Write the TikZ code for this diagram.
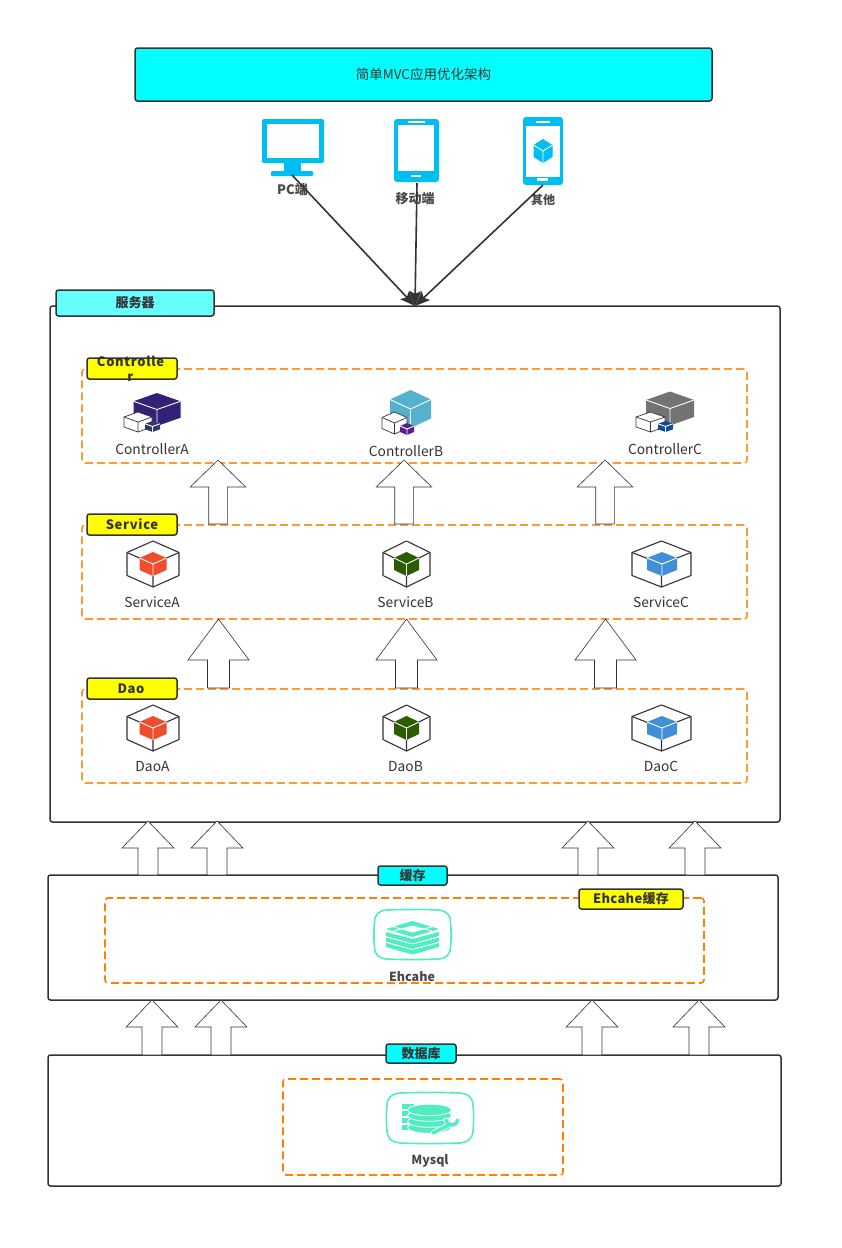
\documentclass[tikz,border=0pt]{standalone}
\usepackage{fontspec}
\setmainfont{Noto Sans CJK SC}
\usetikzlibrary{arrows.meta}
\definecolor{ink}{HTML}{333333}
\definecolor{aqua}{RGB}{0,255,255}
\definecolor{paleaqua}{RGB}{102,255,255}
\definecolor{sun}{RGB}{255,255,0}
\definecolor{devblue}{HTML}{00BEF2}
\definecolor{mint}{HTML}{50EDC2}
\definecolor{softorange}{HTML}{FF9933}
\definecolor{deeporange}{HTML}{FF8000}
\definecolor{navy}{HTML}{342076}
\definecolor{slate}{HTML}{2E3A6E}
\definecolor{teal}{HTML}{54B2CE}
\definecolor{plum}{HTML}{5C1F8F}
\definecolor{midgrey}{HTML}{737373}
\definecolor{royal}{HTML}{0F4C96}
\definecolor{tomato}{HTML}{EF4D2D}
\definecolor{forest}{HTML}{2A5C00}
\definecolor{sky}{HTML}{428FD8}
\tikzset{
  panel/.style={draw=ink, line width=1.5pt, rounded corners=2.5pt, fill=white, outer sep=0pt, inner sep=0pt},
  group/.style={draw=softorange, dashed, dash pattern=on 8pt off 4pt, line width=1.6pt, rounded corners=3pt, outer sep=0pt, inner sep=0pt},
  tag/.style={draw=ink, line width=1.5pt, rounded corners=2.5pt, fill=sun, outer sep=0pt, inner sep=0pt},
  tagtext/.style={text=ink, font=\bfseries\fontsize{13}{15}\selectfont, align=center, inner sep=0pt},
  caption/.style={text=ink, font=\fontsize{13.8}{15}\selectfont, inner sep=0pt},
  boldcaption/.style={text=ink!90, font=\bfseries\fontsize{12.5}{15}\selectfont, inner sep=0pt},
  blockarrow/.style={draw=ink, line width=.6pt, fill=white},
  pics/solidcube/.style={code={
    \fill[#1] (0,-1) -- (1,-.5) -- (1,.5) -- (0,1) -- (-1,.5) -- (-1,-.5) -- cycle;
    \draw[white, line width=.9pt] (-1,-.5) -- (0,0) -- (1,-.5) (0,0) -- (0,1);
  }},
  pics/wirecube/.style={code={
    \draw[ink, line width=#1, fill=white, line join=round] (0,-1) -- (1,-.5) -- (1,.5) -- (0,1) -- (-1,.5) -- (-1,-.5) -- cycle;
    \draw[ink, line width=#1] (-1,-.5) -- (0,0) -- (1,-.5) (0,0) -- (0,1);
  }},
  pics/squircle/.style={code={
    \draw[mint, line width=1.6pt, fill=white] (-.68,-1) .. controls (-.3,-1.03) and (.3,-1.03) .. (.68,-1)
      .. controls (.9,-.97) and (1,-.8) .. (1,-.5) .. controls (1.02,-.2) and (1.02,.2) .. (1,.5)
      .. controls (1,.8) and (.9,.97) .. (.68,1) .. controls (.3,1.03) and (-.3,1.03) .. (-.68,1)
      .. controls (-.9,.97) and (-1,.8) .. (-1,.5) .. controls (-1.02,.2) and (-1.02,-.2) .. (-1,-.5)
      .. controls (-1,-.8) and (-.9,-.97) .. (-.68,-1) -- cycle;
  }},
}
\newcommand{\tagspaced}{\addfontfeature{LetterSpace=5}}
\begin{document}
\begin{tikzpicture}[x=1pt, y=-1pt, >={Stealth[length=15pt,width=12pt,inset=3pt]}]
    \useasboundingbox[fill=white] (0,0) rectangle (842,1248);

    \node[panel, fill=aqua, minimum width=577pt, minimum height=53pt] (title) at (423.5,74.5)
        {\fontsize{13.5}{15}\selectfont\color{ink}简单MVC应用优化架构};

    % devices
    \fill[devblue, rounded corners=2pt] (262,119) rectangle (324,163);
    \fill[white] (267,124) rectangle (319,158);
    \fill[devblue] (284,163) rectangle (301,172);
    \fill[devblue, rounded corners=1pt] (271,171) rectangle (313,176);
    \fill[devblue, rounded corners=3pt] (394,119) rectangle (439,182);
    \fill[white] (398,125) rectangle (434,171);
    \fill[white] (408,121) rectangle (425,123);
    \fill[white] (411,175) rectangle (421,177);
    \fill[devblue, rounded corners=3pt] (523,117) rectangle (563,185);
    \fill[white] (526,126) rectangle (560,177);
    \fill[white] (536,121) rectangle (550,123);
    \fill[white] (537,178) rectangle (548,181);
    \pic[xscale=9.5, yscale=12] at (543,151) {solidcube=devblue};
    \coordinate (pcFoot) at (292,175);
    \coordinate (padFoot) at (417,183);
    \coordinate (otherFoot) at (543,185);
    \node[boldcaption, font=\bfseries\fontsize{13}{15}\selectfont] (pcText) at (292.5,190) {PC端};
    \node[boldcaption, font=\bfseries\fontsize{13}{15}\selectfont] (padText) at (415,198.5) {移动端};
    \node[boldcaption, font=\bfseries\fontsize{12}{15}\selectfont] (otherText) at (543,199.5) {其他};

    % server
    \node[panel, minimum width=730pt, minimum height=516pt] (server) at (415,564) {};
    \node[tag, fill=paleaqua, minimum width=158pt, minimum height=26pt] (serverTag) at (135,303) {};
    \node[tagtext] (serverText) at (serverTag) {服务器};
    \draw[->, ink, line width=1.6pt] (pcFoot) -- (server.north);
    \draw[->, ink, line width=1.6pt] (padFoot) -- (server.north);
    \draw[->, ink, line width=1.6pt] (otherFoot) -- (server.north);

    \node[group, minimum width=665pt, minimum height=94pt] (ctrlGroup) at (414.5,416) {};
    \node[group, minimum width=665pt, minimum height=94pt] (svcGroup) at (414.5,572) {};
    \node[group, minimum width=665pt, minimum height=94pt] (daoGroup) at (414.5,736) {};
    \node[tag, minimum width=90pt, minimum height=21pt] (ctrlTag) at (132,368.5) {};
    \node[tagtext] (ctrlText) at (130.5,369) {\tagspaced Controlle\\\tagspaced r};
    \node[tag, minimum width=90pt, minimum height=21pt] (svcTag) at (132,524.5) {};
    \node[tagtext] (svcText) at (svcTag) {\tagspaced Service};
    \node[tag, minimum width=90pt, minimum height=21pt] (daoTag) at (132,688.5) {};
    \node[tagtext] (daoText) at (131,688.5) {\tagspaced Dao};

    % controller icons
    \pic[xscale=23.5, yscale=16.5] at (157,409.5) {solidcube=navy};
    \pic[xscale=14, yscale=10] at (138,422) {wirecube=.7pt};
    \pic[xscale=7.5, yscale=5.5] at (152.5,426.5) {solidcube=slate};
    \pic[xscale=20.5, yscale=19] at (410.5,409) {solidcube=teal};
    \pic[xscale=12.5, yscale=11] at (394.5,423) {wirecube=.7pt};
    \pic[xscale=7, yscale=6] at (407,429) {solidcube=plum};
    \pic[xscale=24, yscale=17] at (670,408.5) {solidcube=midgrey};
    \pic[xscale=14.5, yscale=10] at (650.5,422) {wirecube=.7pt};
    \pic[xscale=7.5, yscale=5.5] at (665.5,426.5) {solidcube=royal};
    \node[caption] (ctrlAText) at (152,449.5) {ControllerA};
    \node[caption] (ctrlBText) at (406,451.5) {ControllerB};
    \node[caption] (ctrlCText) at (665,449.5) {ControllerC};

    % service and dao icons
    \foreach \rowy in {564,728} {
        \pic[xscale=26, yscale=23] at (153,\rowy) {wirecube=1.1pt};
        \pic[xscale=13.5, yscale=12] at (153,\rowy) {solidcube=tomato};
        \pic[xscale=23.5, yscale=23] at (406.5,\rowy) {wirecube=1.1pt};
        \pic[xscale=12.5, yscale=12] at (406.5,\rowy) {solidcube=forest};
        \pic[xscale=29.5, yscale=23] at (661.5,\rowy) {wirecube=1.1pt};
        \pic[xscale=15, yscale=12] at (662,\rowy) {solidcube=sky};
    }
    \node[caption] (svcAText) at (152,602.5) {ServiceA};
    \node[caption] (svcBText) at (405.5,602.5) {ServiceB};
    \node[caption] (svcCText) at (661,602.5) {ServiceC};
    \node[caption] (daoAText) at (152.5,766.5) {DaoA};
    \node[caption] (daoBText) at (405.5,766.5) {DaoB};
    \node[caption] (daoCText) at (661,766.5) {DaoC};

    % cache
    \node[panel, minimum width=730pt, minimum height=125pt] (cache) at (413,937.5) {};
    \node[tag, fill=aqua, minimum width=69pt, minimum height=19pt] (cacheTag) at (412.5,875.5) {};
    \node[tagtext] (cacheText) at (cacheTag) {缓存};
    \node[group, draw=deeporange, minimum width=599pt, minimum height=85pt] (cacheGroup) at (404.5,940.5) {};
    \node[tag, minimum width=104pt, minimum height=20pt] (ehTag) at (631,899) {};
    \node[tagtext] (ehText) at (ehTag) {\addfontfeature{LetterSpace=2}Ehcahe缓存};
    \pic[xscale=38, yscale=24.5] at (412.5,934.5) {squircle};
    \fill[mint] (386,929) -- (412.5,921) -- (439,929) -- (412.5,937) -- cycle;
    \fill[white] (400,929) -- (412.5,925.5) -- (425,929) -- (412.5,932.5) -- cycle;
    \draw[white, line width=.9pt] (392,926.5) -- (401,929) -- (392,931.5) (433,926.5) -- (424,929) -- (433,931.5);
    \foreach \layer in {0,5.5,11} {
        \fill[mint] (386,\layer+932) -- (412.5,\layer+939) -- (439,\layer+932) -- (439,\layer+936) -- (412.5,\layer+943.5) -- (386,\layer+936) -- cycle;
    }
    \node[boldcaption] (ehCaption) at (412,977) {Ehcahe};

    % database
    \node[panel, minimum width=733pt, minimum height=131pt] (db) at (414.5,1120.5) {};
    \node[tag, fill=aqua, minimum width=70pt, minimum height=19pt] (dbTag) at (421,1053.5) {};
    \node[tagtext] (dbText) at (dbTag) {数据库};
    \node[group, draw=deeporange, minimum width=280pt, minimum height=96pt] (dbGroup) at (423,1127) {};
    \pic[xscale=43, yscale=25] at (430,1118) {squircle};
    \foreach \stripe in {1103.5,1110.5,1117.5,1124.5} {
        \fill[mint] (402,\stripe) rectangle (414,\stripe+5.5);
    }
    \foreach \disc in {1127.5,1121.5,1115.5,1110} {
        \filldraw[fill=mint, draw=white, line width=.8pt] (429.5,\disc) ellipse (22pt and 5.8pt);
    }
    \draw[white, line width=5.2pt, line cap=round] (433,1133) -- (449,1125);
    \draw[white, line width=5.2pt, line cap=round] (446,1120) arc[start angle=170, end angle=10, radius=6];
    \draw[mint, line width=3.4pt, line cap=round] (433,1133) -- (449,1125);
    \draw[mint, line width=3.4pt, line cap=round] (446,1120) arc[start angle=170, end angle=10, radius=6];
    \node[boldcaption] (dbCaption) at (430,1161) {Mysql};

    % block arrows
    \foreach \ax in {218,404,605} {
        \draw[blockarrow] (\ax,460) -- (\ax+27.8,487) -- (\ax+9.3,487) -- (\ax+9.3,524) -- (\ax-9.3,524) -- (\ax-9.3,487) -- (\ax-27.8,487) -- cycle;
    }
    \foreach \ax in {218.5,406.5,605.5} {
        \draw[blockarrow] (\ax,619) -- (\ax+30.5,660) -- (\ax+11,660) -- (\ax+11,688) -- (\ax-11,688) -- (\ax-11,660) -- (\ax-30.5,660) -- cycle;
    }
    \foreach \ax in {148,217,588,695} {
        \draw[blockarrow] (\ax,821) -- (\ax+26,848) -- (\ax+10,848) -- (\ax+10,875) -- (\ax-10,875) -- (\ax-10,848) -- (\ax-26,848) -- cycle;
    }
    \foreach \ax in {152,221,592,699} {
        \draw[blockarrow] (\ax,1000) -- (\ax+26,1027) -- (\ax+10,1027) -- (\ax+10,1055) -- (\ax-10,1055) -- (\ax-10,1027) -- (\ax-26,1027) -- cycle;
    }
\end{tikzpicture}
\end{document}
